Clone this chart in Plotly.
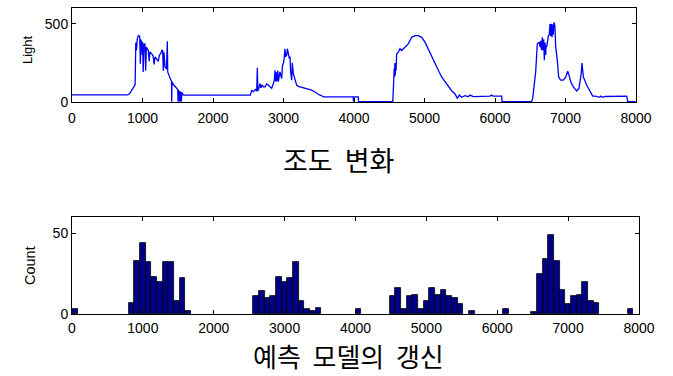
import plotly.graph_objects as go

# ---- Light sensor trace (x = sample index, y = light value) ----
light_x = [0, 790, 820, 850, 880, 895, 905, 915, 925, 940, 960, 970, 975, 985, 995, 1000, 1010, 1020,
           1035, 1045, 1055, 1070, 1082, 1095, 1105, 1130, 1150, 1165, 1177, 1200, 1224, 1240, 1258,
           1275, 1286, 1295, 1305, 1315, 1320, 1340, 1352, 1358, 1366, 1390, 1405, 1412, 1414, 1418,
           1440, 1461, 1480, 1500, 1505, 1512, 1520, 1528, 1536, 1544, 1552, 1558, 1570, 1580,
           2530, 2550, 2572, 2600, 2620, 2629, 2635, 2643, 2667, 2680, 2695, 2714, 2738, 2760, 2785,
           2810, 2832, 2856, 2870, 2880, 2890, 2900, 2910, 2920, 2926, 2950, 2974, 2985, 2997, 3010,
           3020, 3030, 3045, 3055, 3068, 3083, 3092, 3100, 3116, 3125, 3139, 3160, 3187, 3210, 3234,
           3280, 3329, 3360, 3400, 3440, 3471, 3510, 3542, 3565, 3990, 3992, 4000, 4060, 4065,
           4550, 4555, 4565, 4570, 4575, 4580, 4585, 4590, 4596, 4605, 4629, 4652, 4676, 4700, 4723,
           4770, 4818, 4865, 4912, 4960, 5007, 5054, 5102, 5149, 5196, 5243, 5291, 5338, 5385, 5433,
           5466, 5494, 5527, 5574, 5621, 5645, 5692, 5929, 5950, 5970, 6095, 6100,
           6520, 6535, 6553, 6577, 6600, 6628, 6640, 6648, 6660, 6671, 6680, 6690, 6700, 6710, 6718,
           6725, 6733, 6757, 6770, 6780, 6790, 6800, 6810, 6818, 6827, 6835, 6841, 6850, 6861, 6884,
           6903, 6932, 6969, 7003, 7031, 7050, 7074, 7111, 7159, 7191, 7220, 7234, 7253, 7300, 7348,
           7386, 7418, 7450, 7489, 7500, 7532, 7560, 7868, 7882, 7995]
light_y = [45, 45, 55, 80, 97, 110, 380, 330, 400, 424, 420, 245, 400, 382, 300, 385, 192, 370,
           371, 200, 350, 340, 329, 260, 320, 308, 295, 240, 287, 275, 260, 300, 308,
           330, 329, 200, 318, 250, 223, 210, 388, 190, 182, 150, 140, 130, 2, 129,
           110, 97, 90, 80, 2, 76, 5, 70, 2, 65, 3, 60, 50, 44,
           44, 76, 65, 80, 70, 219, 70, 76, 118, 90, 110, 97, 97, 115, 108,
           95, 87, 118, 140, 203, 130, 190, 135, 200, 129, 192, 150, 230, 245, 280,
           340, 290, 298, 340, 300, 277, 290, 200, 139, 250, 182, 150, 108, 100, 97,
           90, 87, 80, 76, 65, 55, 45, 40, 33, 33, 3, 33, 33, 3,
           3, 118, 150, 213, 160, 249, 170, 230, 200, 308, 318, 340, 329, 340, 350,
           371, 413, 424, 424, 413, 382, 340, 287, 245, 203, 160, 129, 97, 72, 51,
           23, 44, 30, 40, 34, 44, 34, 38, 45, 38, 38, 3,
           3, 23, 97, 192, 371, 382, 350, 390, 330, 413, 330, 400, 266, 380, 300,
           360, 350, 424, 430, 498, 420, 500, 413, 495, 430, 500, 508, 480, 350, 266,
           160, 139, 139, 160, 196, 171, 129, 97, 70, 87, 171, 249, 160, 108, 65,
           38, 38, 35, 30, 38, 30, 35, 38, 3, 3]

# ---- Histogram of model updates (bins of width 80, left edges) ----
bin_width = 80
bin_left = [0,
            800, 880, 960, 1040, 1120, 1200, 1280, 1360, 1440, 1520, 1600,
            2560, 2640, 2720, 2800, 2880, 2960, 3040, 3120, 3200, 3280, 3360, 3440,
            4000,
            4480, 4560, 4640, 4720, 4800, 4880, 4960, 5040, 5120, 5200, 5280, 5360, 5440,
            5600, 6080, 6480,
            6560, 6640, 6720, 6800, 6880, 6960, 7040, 7120, 7200, 7280, 7360,
            7840]
counts = [3,
          7, 33, 44, 32, 23, 20, 32, 32, 8, 22, 2,
          11, 14, 10, 11, 23, 20, 22, 32, 8, 3, 2, 4,
          3,
          11, 16, 3, 11, 12, 3, 8, 16, 12, 15, 11, 10, 6,
          2, 3, 1,
          25, 34, 49, 33, 15, 6, 11, 12, 20, 8, 7,
          3]

x_ticks = [0, 1000, 2000, 3000, 4000, 5000, 6000, 7000, 8000]
top_title = "조도\u00a0 변화"
bottom_title = "예측\u00a0 모델의\u00a0 갱신"

W, H = 673, 376

def px_x(a, b):
    return [a / W, b / W]

def px_y(top, bottom):
    return [1 - bottom / H, 1 - top / H]

fig = go.Figure()
fig.add_trace(go.Scatter(x=light_x, y=light_y, mode="lines",
                         line=dict(color="rgb(0,0,245)", width=1.3),
                         xaxis="x", yaxis="y", showlegend=False))
fig.add_trace(go.Bar(x=[b + bin_width / 2 for b in bin_left], y=counts, width=bin_width,
                     marker=dict(color="rgb(0,0,135)", line=dict(color="black", width=0.8)),
                     xaxis="x2", yaxis="y2", showlegend=False))

tickfont = dict(family="Liberation Sans, Arial, sans-serif", size=14, color="black")
axis_common = dict(showline=True, linecolor="black", linewidth=1, mirror="allticks",
                   ticks="inside", ticklen=4, tickcolor="black", showgrid=False,
                   zeroline=False, tickfont=tickfont, automargin=False)

fig.update_layout(
    width=W, height=H, autosize=False,
    margin=dict(l=0, r=0, t=0, b=0, pad=0),
    paper_bgcolor="white", plot_bgcolor="white",
    bargap=0,
    xaxis=dict(domain=px_x(72, 636), range=[0, 8000], tickvals=x_ticks, anchor="y",
               ticklabelstandoff=3, **axis_common),
    yaxis=dict(domain=px_y(8, 102), range=[0, 600], tickvals=[0, 500], anchor="x", **axis_common),
    xaxis2=dict(domain=px_x(72, 639), range=[0, 8000], tickvals=x_ticks, anchor="y2",
                ticklabelstandoff=1, **axis_common),
    yaxis2=dict(domain=px_y(217, 314), range=[0, 60], tickvals=[0, 50], anchor="x2", **axis_common),
    annotations=[
        dict(text="Light", x=27 / W, y=1 - 50 / H, xref="paper", yref="paper", textangle=-90,
             showarrow=False, font=dict(family="Liberation Sans, Arial, sans-serif", size=13, color="black"),
             xanchor="center", yanchor="middle"),
        dict(text="Count", x=30 / W, y=1 - 266 / H, xref="paper", yref="paper", textangle=-90,
             showarrow=False, font=dict(family="Liberation Sans, Arial, sans-serif", size=14.5, color="black"),
             xanchor="center", yanchor="middle"),
        dict(text=top_title, x=338 / W, y=1 - 160 / H, xref="paper", yref="paper",
             showarrow=False, font=dict(family="Noto Sans CJK KR", size=27, color="black"),
             xanchor="center", yanchor="middle"),
        dict(text=bottom_title, x=348 / W, y=1 / H, xref="paper", yref="paper",
             showarrow=False, font=dict(family="Noto Sans CJK KR", size=26, color="black"),
             xanchor="center", yanchor="bottom", borderpad=0),
    ],
)

fig.write_html("out.html")
